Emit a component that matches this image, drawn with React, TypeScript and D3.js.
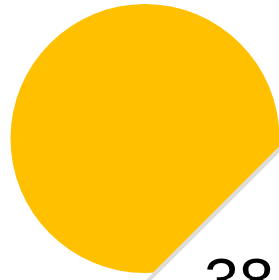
import React, { useEffect, useRef } from 'react';
import * as d3 from 'd3';

// values
const sliceValues = [100];
const sliceColors = ['#ffc000'];
const labels = ['38'];

export default function App() {
  const ref = useRef<SVGSVGElement>(null);
  const width = 279;
  const height = 280;

  useEffect(() => {
    const svg = d3.select(ref.current);
    svg.selectAll('*').remove();

    const cx = 145;
    const cy = 138.5;
    const r = 134.5;
    const cut = 426; // x + y of the folded edge

    const pie = d3.pie<number>().sort(null);
    const arc = d3.arc<d3.PieArcDatum<number>>().innerRadius(0).outerRadius(r);

    // clip everything beyond the fold
    svg.append('defs')
      .append('clipPath')
      .attr('id', 'fold')
      .append('polygon')
      .attr('points', `0,0 ${width},0 ${width},${cut - width} ${cut - height},${height} 0,${height}`);

    svg.append('g')
      .attr('clip-path', 'url(#fold)')
      .append('g')
      .attr('transform', `translate(${cx},${cy})`)
      .selectAll('path')
      .data(pie(sliceValues))
      .join('path')
      .attr('d', arc)
      .attr('fill', (_, i) => sliceColors[i]);

    // shadow line along the fold
    const off = 2.8;
    svg.append('line')
      .attr('x1', width + 5).attr('y1', cut - width - 5 + off)
      .attr('x2', cut - height - 5 + off).attr('y2', height + 5)
      .attr('stroke', '#dcdcdc')
      .attr('stroke-width', 4);

    svg.selectAll('text.lbl')
      .data(labels)
      .join('text')
      .attr('class', 'lbl')
      .attr('x', 204)
      .attr('y', 302)
      .attr('font-family', '"Liberation Sans", Arial, sans-serif')
      .attr('font-size', 63)
      .attr('fill', '#000')
      .text(d => d);
  }, []);

  return (
    <svg ref={ref} width={width} height={height}
      style={{ position: 'absolute', left: 0, top: 0, display: 'block' }} />
  );
}
